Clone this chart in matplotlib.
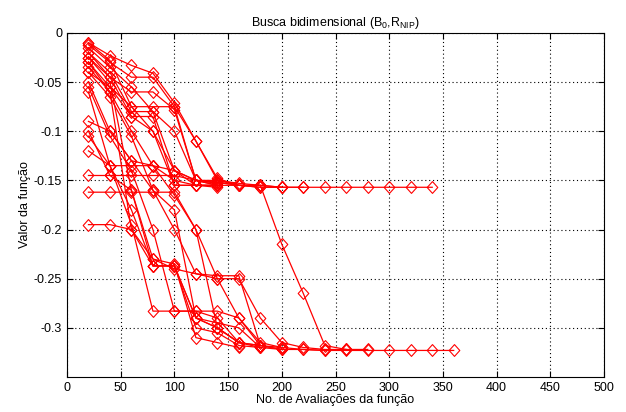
import numpy as np
import matplotlib
matplotlib.use('Agg')
import matplotlib.pyplot as plt
from matplotlib.ticker import FuncFormatter
from matplotlib.path import Path

plt.rcParams['font.family'] = ['Liberation Sans', 'DejaVu Sans']
plt.rcParams['mathtext.default'] = 'regular'
plt.rcParams['axes.unicode_minus'] = False

# Best function value found after each block of 20 evaluations (x = 20, 40, 60, ...)
step = 20
runs = [
    [-0.010, -0.028, -0.075, -0.075, -0.075, -0.150, -0.152, -0.155, -0.155, -0.157, -0.157,
     -0.157, -0.157, -0.157, -0.157, -0.157, -0.157],
    [-0.012, -0.030, -0.045, -0.045, -0.075, -0.110, -0.150, -0.153, -0.155, -0.157],
    [-0.015, -0.035, -0.055, -0.080, -0.100, -0.150, -0.155, -0.155, -0.157, -0.157, -0.157],
    [-0.020, -0.040, -0.080, -0.080, -0.140, -0.150, -0.150, -0.155],
    [-0.025, -0.045, -0.085, -0.085, -0.155, -0.155, -0.155],
    [-0.030, -0.055, -0.075, -0.100, -0.155, -0.155, -0.157],
    [-0.035, -0.060, -0.100, -0.135, -0.165, -0.200, -0.250, -0.250, -0.290, -0.315, -0.320,
     -0.322, -0.322],
    [-0.040, -0.065, -0.105, -0.160, -0.180, -0.290, -0.300, -0.315, -0.318, -0.320],
    [-0.050, -0.100, -0.130, -0.135, -0.140, -0.155, -0.155],
    [-0.055, -0.105, -0.140, -0.200, -0.283, -0.283, -0.283, -0.290, -0.318, -0.322],
    [-0.060, -0.135, -0.180, -0.237, -0.237, -0.300, -0.305, -0.318, -0.320],
    [-0.090, -0.100, -0.130, -0.160, -0.200, -0.245, -0.250, -0.290, -0.315, -0.320, -0.322,
     -0.323, -0.323, -0.323, -0.323, -0.323, -0.323, -0.323],
    [-0.100, -0.145, -0.160, -0.230, -0.235, -0.310, -0.315, -0.320],
    [-0.105, -0.135, -0.135, -0.135, -0.150, -0.155, -0.155],
    [-0.120, -0.135, -0.195, -0.283, -0.283, -0.283, -0.290, -0.315, -0.320],
    [-0.145, -0.145, -0.145, -0.145, -0.145, -0.150, -0.155],
    [-0.162, -0.162, -0.162, -0.162, -0.162, -0.200, -0.300, -0.315],
    [-0.195, -0.195, -0.200, -0.237, -0.237, -0.290, -0.300, -0.315, -0.318],
    [-0.010, -0.023, -0.033, -0.041, -0.071, -0.110, -0.148, -0.155, -0.157, -0.157],
    [-0.020, -0.045, -0.060, -0.060, -0.078, -0.150, -0.153],
    [-0.040, -0.055, -0.085, -0.100, -0.140, -0.150, -0.152, -0.155, -0.155, -0.215, -0.265,
     -0.318, -0.322, -0.322],
    [-0.025, -0.050, -0.160, -0.237, -0.237, -0.290, -0.295, -0.300, -0.320, -0.322],
    [-0.030, -0.060, -0.200, -0.230, -0.240, -0.245, -0.247, -0.247, -0.318, -0.322, -0.322,
     -0.323],
]

# MATLAB-like diamond: slightly taller than wide
diamond = Path([(0, 1), (0.9, 0), (0, -1), (-0.9, 0), (0, 1)],
               [Path.MOVETO, Path.LINETO, Path.LINETO, Path.LINETO, Path.CLOSEPOLY])

fig = plt.figure(figsize=(6.26, 4.12), dpi=100)
ax = fig.add_axes([0.107, 0.085, 0.858, 0.835])

for vals in runs:
    x = step * np.arange(1, len(vals) + 1)
    ax.plot(x, vals, color='red', lw=0.9, marker=diamond, markersize=8.5,
            markerfacecolor='none', markeredgecolor='red', markeredgewidth=0.8)

ax.set_xlim(0, 500)
ax.set_ylim(-0.35, 0)
ax.set_xticks(np.arange(0, 501, 50))
ax.set_yticks(np.arange(-0.3, 0.001, 0.05))
ax.yaxis.set_major_formatter(FuncFormatter(lambda v, p: '%g' % (round(v, 3) + 0.0)))
ax.tick_params(direction='in', top=True, right=True, labelsize=9, length=4)
ax.grid(True, color='black', linestyle=(0, (1, 2.5)), linewidth=0.8)
for s in ax.spines.values():
    s.set_linewidth(0.8)

ax.set_title('Busca bidimensional (B$_0$,R$_{NIP}$)', fontsize=9, pad=5)
ax.set_xlabel('No. de Avaliações da função', fontsize=9, labelpad=0)
ax.set_ylabel('Valor da função', fontsize=9, labelpad=2)

plt.savefig('out.png', dpi=100)
